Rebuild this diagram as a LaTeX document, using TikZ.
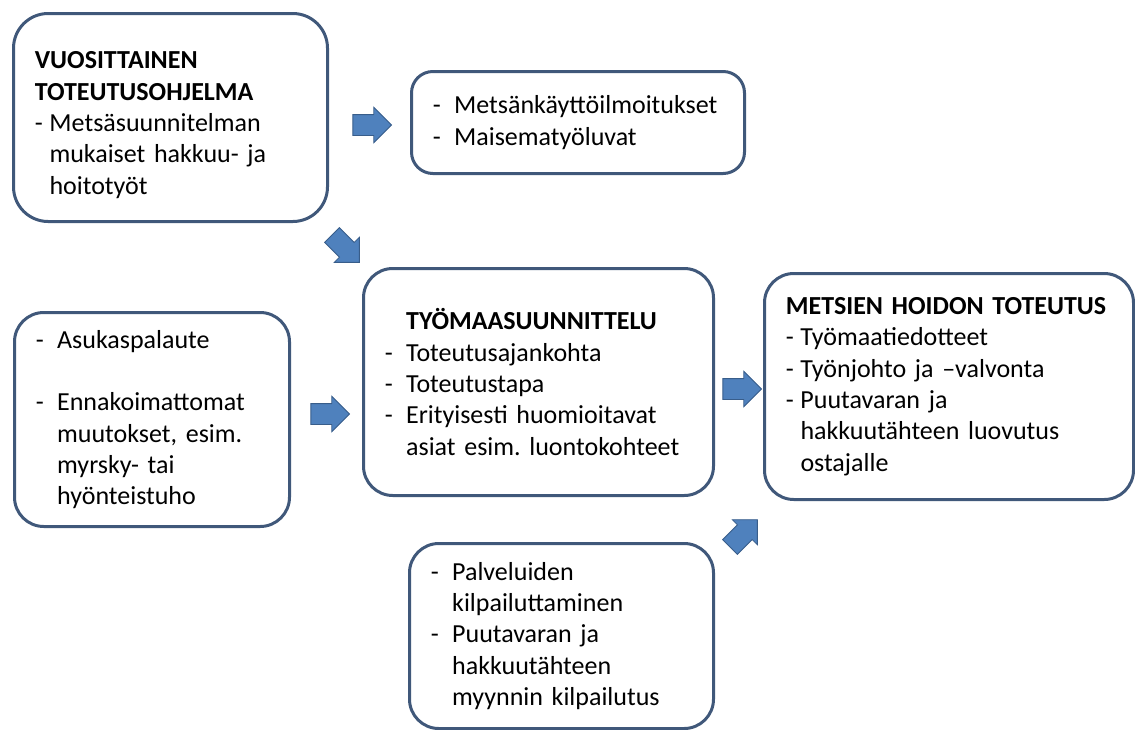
\documentclass[tikz,border=0pt]{standalone}
\usepackage{fontspec}
\setmainfont{Carlito}
\usepackage{xcolor}
\definecolor{reuna}{RGB}{64, 88, 122}
\definecolor{nuolisini}{RGB}{79, 129, 189}
\definecolor{nuolireuna}{RGB}{56, 93, 138}
\usetikzlibrary{shapes, shapes.arrows, positioning}
\frenchspacing
\newcommand{\kohta}[2][16pt]{\makebox[#1][l]{-}#2}
\newcommand{\jatko}[1][16pt]{\hspace*{#1}}
\tikzset{laatikko/.style={draw=reuna, line width=2.25pt, rounded corners=22pt, fill=white,
		anchor=north west, align=left, inner xsep=16pt, font=\fontsize{19.5pt}{23.5pt}\selectfont},
	nuoli/.style={single arrow, fill=nuolisini, draw=nuolireuna, line width=0.6pt,
		minimum height=29pt, inner xsep=0pt, inner ysep=7.5pt, single arrow head extend=5.5pt}}

\begin{document}
\begin{tikzpicture}[x=0.75pt, y=-0.75pt]
			\useasboundingbox (0,0) rectangle (1135,729);
			
			\node [laatikko, text width=203.5pt, minimum height=156pt, rounded corners=26pt] (ohjelma) at (12,12)
			{\rule{0pt}{24pt}\textbf{VUOSITTAINEN}\\ \textbf{TOTEUTUSOHJELMA}\\ \kohta[11pt]{Metsäsuunnitelman}\\
				\jatko[11pt]mukaiset hakkuu- ja\\ \jatko[11pt]hoitotyöt};
			
			\node [laatikko, text width=217.75pt, minimum height=76.5pt, rounded corners=16pt] (luvat) at (410,70)
			{\kohta{Metsänkäyttöilmoitukset}\\ \kohta{Maisematyöluvat}};
			
			\node [laatikko, text width=230.5pt, minimum height=170.25pt] (suunnittelu) at (362,267)
			{\jatko\textbf{TYÖMAASUUNNITTELU}\\ \kohta{Toteutusajankohta}\\ \kohta{Toteutustapa}\\
				\kohta{Erityisesti huomioitavat}\\ \jatko asiat esim. luontokohteet};
			
			\node [laatikko, text width=174.25pt, minimum height=160.5pt] (palaute) at (13,311)
			{\kohta{Asukaspalaute}\\[23.5pt] \kohta{Ennakoimattomat}\\ \jatko muutokset, esim.\\
				\jatko myrsky- tai\\ \jatko hyönteistuho};
			
			\node [laatikko, text width=244.75pt, minimum height=169.5pt] (toteutus) at (763,272)
			{\textbf{METSIEN HOIDON TOTEUTUS}\\ \kohta[11pt]{Työmaatiedotteet}\\ \kohta[11pt]{Työnjohto ja –valvonta}\\
				\kohta[11pt]{Puutavaran ja}\\ \jatko[11pt]hakkuutähteen luovutus\\ \jatko[11pt]ostajalle};
			
			\node [laatikko, text width=196pt, minimum height=138.75pt] (kilpailutus) at (408,542)
			{\kohta{Palveluiden}\\ \jatko kilpailuttaminen\\ \kohta{Puutavaran ja}\\
				\jatko hakkuutähteen\\ \jatko myynnin kilpailutus};
			
			\node [nuoli] (nuoli1) at (367,125) {};
			\node [nuoli, rotate=-45] (nuoli2) at (342,245) {};
			\node [nuoli] (nuoli3) at (325,414) {};
			\node [nuoli] (nuoli4) at (737,389) {};
			\node [nuoli, rotate=45] (nuoli5) at (740,537) {};
		\end{tikzpicture}
\end{document}
